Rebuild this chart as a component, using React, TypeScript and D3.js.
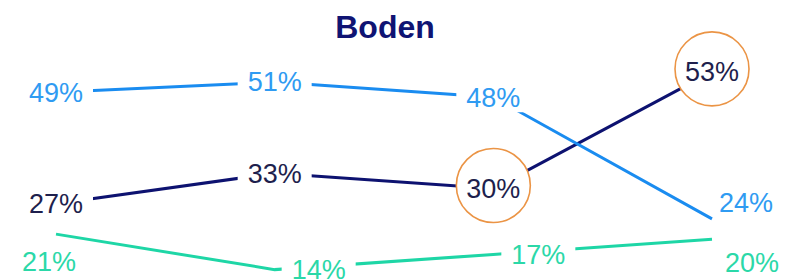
import { useEffect, useRef } from "react";
import * as d3 from "d3";

const periods = ["W1", "W2", "W3", "W4"];
const blueValues = [49, 51, 48, 24];
const navyValues = [27, 33, 30, 53];
const tealValues = [21, 14, 17, 20];
const circledNavy = [2, 3]; // indexes of highlighted points

export default function App() {
  const svgRef = useRef<SVGSVGElement>(null);

  useEffect(() => {
    if (!svgRef.current) return;
    const width = 792;
    const height = 280;
    const font = "'Liberation Sans', Arial, sans-serif";

    const svg = d3.select(svgRef.current);
    svg.selectAll("*").remove();

    const x = d3.scalePoint<string>().domain(periods).range([56, 712]);
    const y = d3.scaleLinear().domain([0, 60]).range([340.6, 36.4]);

    svg.append("text")
      .attr("x", 385)
      .attr("y", 38)
      .attr("text-anchor", "middle")
      .attr("font-family", font)
      .attr("font-weight", "bold")
      .attr("font-size", 32)
      .attr("fill", "#0f1473")
      .text("Boden");

    const series = [
      { key: "navy", values: navyValues, line: "#0d1270", text: "#1e1f4d",
        offsets: [[0, 0], [0, 0], [0, 0], [0, 0]] },
      { key: "blue", values: blueValues, line: "#1a8cf0", text: "#2f9bf2",
        offsets: [[0, 0], [0, 0], [0, 0], [34, -16]] },
      { key: "teal", values: tealValues, line: "#1ed6a6", text: "#2bd8a8",
        offsets: [[-7, 27], [44, 0], [45, 0], [40, 23]] },
    ];

    const line = d3.line<number>()
      .x((_, i) => x(periods[i]) ?? 0)
      .y(d => y(d));

    // lines first
    series.forEach(s => {
      svg.append("path")
        .datum(s.values)
        .attr("fill", "none")
        .attr("stroke", s.line)
        .attr("stroke-width", 3)
        .attr("d", line);
    });

    // labels with white boxes that break the lines
    series.forEach(s => {
      s.values.forEach((v, i) => {
        const cx = (x(periods[i]) ?? 0) + s.offsets[i][0];
        const cy = y(v) + s.offsets[i][1];
        const circled = s.key === "navy" && circledNavy.includes(i);
        if (circled) {
          svg.append("circle")
            .attr("cx", cx)
            .attr("cy", cy - 3)
            .attr("r", 37)
            .attr("fill", "#fff")
            .attr("stroke", "#eb9445")
            .attr("stroke-width", 1.6);
        } else if (s.offsets[i][1] === 0) {
          svg.append("rect")
            .attr("x", cx - 37)
            .attr("y", cy - 15)
            .attr("width", 74)
            .attr("height", 30)
            .attr("fill", "#fff");
        }
        svg.append("text")
          .attr("x", cx)
          .attr("y", cy)
          .attr("dy", "0.35em")
          .attr("text-anchor", "middle")
          .attr("font-family", font)
          .attr("font-size", 27)
          .attr("fill", s.text)
          .text(`${v}%`);
      });
    });

    svg.attr("width", width).attr("height", height);
  }, []);

  return (
    <svg ref={svgRef} width={792} height={280}
      style={{ position: "absolute", left: 0, top: 0, background: "#fff" }} />
  );
}
